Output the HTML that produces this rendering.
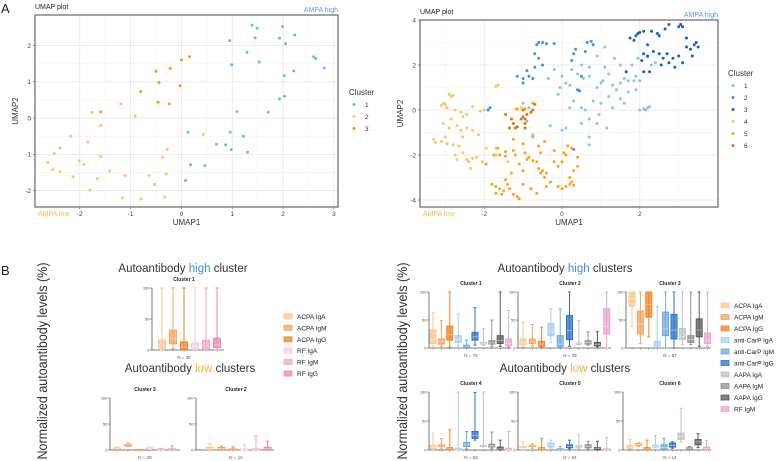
<!DOCTYPE html>
<html><head><meta charset="utf-8"><style>
body{margin:0;background:#fff;}
svg{display:block;font-family:"Liberation Sans",sans-serif;}
</style></head><body>
<svg id="fig" width="777" height="461" viewBox="0 0 777 461" xmlns="http://www.w3.org/2000/svg">
<text x="1" y="13" font-size="13" fill="#222">A</text>
<text x="1" y="275" font-size="13" fill="#222">B</text>
</svg>
<script>
// ---------- UMAP data ----------
const umapL_c1=[[1.39,2.56],[1.49,2.47],[1.99,2.52],[2.23,2.29],[1.45,2.21],[1.93,2.2],[0.95,2.13],[2.05,2.05],[1.29,1.81],[1.53,1.54],[0.99,1.47],[2.6,1.69],[2.64,1.64],[2.81,1.38],[2.21,1.3],[2.02,1.17],[1.93,0.53],[2.03,0.6],[1.09,0.18],[1.71,0.16],[0.13,-0.39],[0.96,-0.39],[1.22,-0.5],[0.69,-0.72],[0.87,-0.74],[0.98,-0.87],[1.3,-0.94],[0.18,-1.29],[0.46,-1.31],[0.08,-1.72]];
const umapL_c2=[[-1.19,0.39],[-0.91,0.06],[-1.76,0.16],[-1.59,-0.2],[-2.18,-0.5],[-1.84,-0.66],[-2.39,-0.82],[-2.5,-0.98],[-1.59,-1.06],[-2.63,-1.22],[-2.01,-1.18],[-1.92,-1.28],[-2.53,-1.42],[-2.39,-1.48],[-1.41,-1.46],[-2.13,-1.62],[-1.11,-1.58],[-1.65,-1.67],[-0.64,-1.58],[-1.8,-1.98],[-0.53,-1.83],[-1.16,-2.2],[-0.8,-2.23],[-0.33,-2.18],[0.43,-0.45],[-0.28,-0.86],[-0.37,-1.08],[-0.3,-1.54]];
const umapL_c3=[[0.16,1.69],[0,1.6],[-0.22,1.37],[-0.5,1.29],[-0.44,0.98],[-0.03,0.89],[-0.8,0.73],[-0.46,0.44],[-0.24,0.39],[-1.59,0.17]];
const umapR_c1=[[-0.2,1.8],[0,1.5],[0.1,1.2],[-0.1,0.7],[0.2,1.1],[0.5,2.0],[0.7,1.9],[0.7,1.5],[1.0,1.2],[1.05,1.3],[1.2,1.6],[0.9,1.0],[1.3,1.1],[1.4,0.9],[1.5,1.2],[1.6,1.4],[1.7,1.3],[1.85,1.3],[1.8,2.0],[1.9,1.5],[2.0,1.3],[2.3,2.0],[2.4,2.1],[1.35,2.3],[1.5,2.0],[0.5,0.1],[0.3,0.4],[0.6,0.0],[0.8,0.4],[1.0,0.3],[1.2,0.6],[1.5,0.5],[1.7,0.8],[1.9,0.9],[1.6,0.3],[0.95,-0.2],[0.9,-0.6],[1.15,-0.8],[0.7,-0.4],[0.5,-0.6],[0.1,-0.8],[0,-0.9],[-0.3,-0.7],[-0.75,-1.1],[0.7,-1.2],[0.7,-1.55],[2.0,0],[2.1,0.05],[2.2,0.1],[2.25,0.15],[2.15,0],[-0.9,-0.5],[-1.0,0.3],[-0.85,0.1],[1.95,2.3],[2.2,2.35],[0.9,2.4],[1.1,2.8],[0.2,0.1],[0.55,1.4],[-0.05,1.0],[0.25,1.8],[1.3,0.1],[-0.35,1.4],[0.4,1.6],[1.1,1.9]];
const umapR_c2=[[-0.6,3.0],[-0.5,3.0],[-0.4,2.95],[-0.2,2.95],[-0.65,2.9],[-0.7,2.5],[-0.6,2.3],[-0.5,2.0],[-0.7,1.9],[-0.9,1.75],[-1.0,1.4],[-1.15,1.5],[-0.85,1.5],[-0.75,1.4],[-1.0,1.2],[0.3,2.5],[0.35,2.7],[0.6,2.6],[0.25,2.2],[0.65,3.0],[0.5,1.5],[0.4,0.9],[0.45,0.85],[-1.85,0.1],[-1.9,0.0],[0.3,-1.75],[0.75,3.05],[0.8,2.9]];
const umapR_c3=[[1.65,1.7],[1.75,3.2],[1.85,3.1],[1.9,3.3],[1.95,3.4],[2.0,3.45],[2.1,3.5],[2.3,3.5],[2.45,3.4],[2.5,3.3],[2.65,3.6],[2.75,3.8],[3.0,3.7],[3.05,3.8],[3.1,3.7],[2.1,2.5],[2.2,2.4],[2.35,2.6],[2.5,2.5],[2.6,2.3],[2.7,2.5],[2.85,2.3],[3.0,2.4],[3.2,2.8],[3.3,2.7],[3.4,2.9],[3.5,2.8],[3.35,2.4],[3.1,2.1],[2.9,1.9],[2.1,1.7],[2.25,1.7],[2.05,2.2],[2.75,2.1],[3.2,3.2],[3.45,3.0],[2.2,2.9],[2.55,2.0]];
const umapR_c4=[[-2.9,0.7],[-2.85,0.6],[-2.8,0.65],[-3.05,0.3],[-3.0,0.25],[-2.95,0.1],[-2.75,0.0],[-2.6,-0.1],[-2.55,-0.3],[-2.45,-0.2],[-2.3,0.15],[-2.1,-0.05],[-2.0,0.0],[-1.05,0.1],[-1.2,0.05],[-3.05,-0.6],[-2.9,-0.8],[-2.7,-0.7],[-2.6,-0.9],[-2.55,-1.2],[-2.45,-0.8],[-2.3,-0.9],[-2.15,-1.1],[-3.3,-1.3],[-3.25,-1.45],[-3.1,-1.4],[-3.0,-1.2],[-2.95,-1.5],[-2.8,-1.55],[-2.65,-1.6],[-2.55,-1.9],[-2.75,-2.0],[-2.7,-2.2],[-2.45,-2.2],[-2.4,-2.3],[-2.3,-2.15],[-2.2,-2.1],[-2.05,-2.3],[-2.35,-2.6],[-1.65,1.1],[-1.7,1.05],[-1.95,-1.7],[-1.7,-1.7],[-1.7,-2.0],[-1.6,-2.0],[-3.1,0.2],[-2.85,-0.4],[-1.4,-2.3]];
const umapR_c5=[[-1.95,-2.4],[-1.75,-2.0],[-1.6,-2.0],[-1.45,-1.85],[-1.45,-2.05],[-1.25,-1.8],[-1.2,-2.0],[-1.0,-1.5],[-0.95,-1.9],[-0.85,-2.1],[-0.75,-2.25],[-0.65,-2.3],[-0.6,-2.6],[-0.55,-2.8],[-0.5,-2.7],[-0.45,-3.0],[-0.4,-2.8],[-0.3,-3.2],[-0.2,-2.3],[-0.1,-2.5],[0.0,-2.3],[0.05,-1.9],[0.15,-1.6],[0.25,-1.7],[0.4,-2.1],[0.4,-2.5],[0.3,-2.7],[0.2,-3.0],[-0.1,-3.4],[0,-3.5],[0.1,-3.4],[0.2,-3.3],[0.3,-3.35],[0.25,-3.2],[-1.8,-3.3],[-1.7,-3.4],[-1.6,-3.5],[-1.5,-3.6],[-1.45,-3.1],[-1.4,-3.3],[-1.35,-3.5],[-1.25,-3.75],[-1.15,-3.85],[-1.1,-3.95],[-1.0,-3.3],[-0.8,-3.5],[-0.65,-3.7],[-1.7,-3.7],[-1.55,-3.75],[-0.4,-3.4],[-0.6,-1.6],[-1.1,-2.4],[-1.3,-2.8],[-1.25,-1.3],[-0.75,-1.2],[-0.45,-1.4],[-0.2,-1.8],[-1.15,0.05],[-0.95,0.05],[-0.75,0.3],[-1.65,-1.7],[-1.0,-2.7],[-0.9,-2.2],[-0.55,-1.9],[0.1,-2.0]];
const umapR_c6=[[-1.45,-0.2],[-1.35,-0.8],[-1.25,-0.6],[-1.15,-0.75],[-1.05,-0.4],[-1.0,-0.3],[-0.95,-0.6],[-0.95,-0.8],[-0.9,-0.2],[-1.2,-0.8],[-0.8,-0.1],[-0.7,0.25],[-0.75,0.0],[-1.0,0.0],[-1.3,-0.4],[-0.95,-0.4]];
const umapL_xticks=[-2,-1,0,1,2,3];
const umapL_yticks=[-2,-1,0,1,2];
const umapR_xticks=[-2,0,2];
const umapR_yticks=[-4,-2,0,2,4];

// ---------- Box plot data [min,q1,median,q3,max] ----------
const leftSeries=["ACPA IgA","ACPA IgM","ACPA IgG","RF IgA","RF IgM","RF IgG"];
const boxL_c1=[[0,3,8,16,100],[2,10,19,32,100],[0,1,5,13,100],[0,1,5,11,100],[0,2,7,16,100],[0,4,8,19,100]];
const boxL_c3=[[1,2,3,4,6],[7,8,10,11,13],[0,0,0,1,1],[1,2,3,4,6],[0,0,1,2,3],[0,0,1,2,8]];
const boxL_c2=[[0,1,3,5,12],[0,1,3,5,7],[0,0,1,2,6],[0,0,1,2,11],[0,0,1,2,27],[0,1,2,5,17]];
const rightSeries=["ACPA IgA","ACPA IgM","ACPA IgG","anti-CarP IgA","anti-CarP IgM","anti-CarP IgG","AAPA IgA","AAPA IgM","AAPA IgG","RF IgM"];
const boxR_c1=[[3,8,15,32,63],[3,7,11,16,49],[2,14,24,39,100],[3,10,16,22,61],[1,2,3,5,14],[5,14,20,28,72],[5,7,8,10,35],[3,7,9,13,50],[3,8,13,22,100],[2,4,8,16,67]];
const boxR_c2=[[2,6,10,16,46],[3,8,12,16,42],[1,3,7,12,37],[10,22,30,44,70],[2,3,7,22,70],[3,15,31,58,100],[6,7,8,9,49],[5,7,10,13,29],[2,4,6,10,29],[0,25,38,70,100]];
const boxR_c3=[[38,75,88,100,100],[8,25,43,66,100],[20,55,78,100,100],[1,3,5,12,74],[0,22,34,64,100],[0,16,32,60,100],[6,15,20,35,100],[6,10,15,22,100],[3,20,32,52,100],[3,8,14,27,100]];
const boxR_c4=[[0,2,5,8,29],[3,6,7,9,20],[0,0,2,4,35],[0,0,1,3,100],[2,6,9,13,32],[17,20,25,32,99],[5,6,7,8,100],[2,5,7,10,31],[0,2,3,5,17],[0,0,1,3,32]];
const boxR_c5=[[0,4,5,6,14],[3,6,7,8,11],[0,0,2,4,20],[3,5,8,12,17],[0,1,1,2,6],[2,4,6,9,17],[3,5,7,8,26],[2,4,6,9,15],[0,1,3,4,15],[0,0,1,2,22]];
const boxR_c6=[[2,3,5,8,18],[6,8,9,11,12],[0,0,2,4,17],[4,5,6,8,25],[0,1,4,9,20],[3,5,8,12,14],[14,18,23,29,72],[0,1,3,4,6],[4,9,14,18,28],[0,1,3,5,16]];
const boxTicks=[0,50,100];

const svg=document.getElementById('fig');
const NS="http://www.w3.org/2000/svg";
function mk(tag,attrs,parent){const e=document.createElementNS(NS,tag);for(const k in attrs)e.setAttribute(k,attrs[k]);(parent||svg).appendChild(e);return e;}
function txt(s,x,y,size,fill,extra,parent){const e=mk('text',Object.assign({x:x,y:y,'font-size':size,fill:fill},extra||{}),parent);e.textContent=s;return e;}

// ---------- UMAP panel ----------
function umap(cfg){
  const g=mk('g',{});
  
  
  const sx=v=>cfg.x0+(v-cfg.xmin)/(cfg.xmax-cfg.xmin)*(cfg.x1-cfg.x0);
  const sy=v=>cfg.y1-(v-cfg.ymin)/(cfg.ymax-cfg.ymin)*(cfg.y1-cfg.y0);
  mk('rect',{x:cfg.x0,y:cfg.y0,width:cfg.x1-cfg.x0,height:cfg.y1-cfg.y0,fill:'#fff'},g);
  const minorX=[],minorY=[];
  for(let i=0;i<cfg.xticks.length-1;i++)minorX.push((cfg.xticks[i]+cfg.xticks[i+1])/2);
  for(let i=0;i<cfg.yticks.length-1;i++)minorY.push((cfg.yticks[i]+cfg.yticks[i+1])/2);
  if(cfg.extraMinorX)cfg.extraMinorX.forEach(v=>minorX.push(v));
  minorX.forEach(v=>mk('line',{x1:sx(v),x2:sx(v),y1:cfg.y0,y2:cfg.y1,stroke:'#f2f2f2','stroke-width':0.6},g));
  minorY.forEach(v=>mk('line',{x1:cfg.x0,x2:cfg.x1,y1:sy(v),y2:sy(v),stroke:'#f2f2f2','stroke-width':0.6},g));
  cfg.xticks.forEach(v=>{
    mk('line',{x1:sx(v),x2:sx(v),y1:cfg.y0,y2:cfg.y1,stroke:'#e6e6e6','stroke-width':0.8},g);
    mk('line',{x1:sx(v),x2:sx(v),y1:cfg.y1,y2:cfg.y1+2,stroke:'#444','stroke-width':0.6},g);
    const t=txt(String(v),sx(v),cfg.y1+9,6.5,'#444',{'text-anchor':'middle'},g);
    
    
  });
  cfg.yticks.forEach(v=>{
    mk('line',{x1:cfg.x0,x2:cfg.x1,y1:sy(v),y2:sy(v),stroke:'#e6e6e6','stroke-width':0.8},g);
    mk('line',{x1:cfg.x0-2,x2:cfg.x0,y1:sy(v),y2:sy(v),stroke:'#444','stroke-width':0.6},g);
    const t=txt(String(v),cfg.x0-4,sy(v)+2.3,6.5,'#444',{'text-anchor':'end'},g);
    
    
  });
  cfg.series.forEach((s,i)=>{
    s.pts.forEach(p=>{
      const c=mk('circle',{cx:sx(p[0]),cy:sy(p[1]),r:1.5,fill:s.color},g);
      
      
    });
  });
  const b=mk('rect',{x:cfg.x0,y:cfg.y0,width:cfg.x1-cfg.x0,height:cfg.y1-cfg.y0,fill:'none',stroke:'#666','stroke-width':1.2},g);
  
  
  let t=txt('UMAP plot',cfg.x0,cfg.y0-6,7,'#222',{},g);
  
  
  t=txt('AMPA high',cfg.x1,cfg.y0-3,7,'#5b9bd5',{'text-anchor':'end'},g);
  
  
  t=txt('AMPA low',cfg.x0+3,cfg.y1+9,7,'#fbbf45',{},g);
  
  
  t=txt('UMAP1',(cfg.x0+cfg.x1)/2,cfg.y1+18,8,'#333',{'text-anchor':'middle'},g);
  
  
  const my=(cfg.y0+cfg.y1)/2, mxp=cfg.x0-17;
  t=txt('UMAP2',mxp,my,8,'#333',{'text-anchor':'middle',transform:'rotate(-90 '+mxp+' '+my+')'},g);
  
  
  t=txt('Cluster',cfg.lx,cfg.ly,8,'#333',{},g);
  
  
  cfg.series.forEach((s,i)=>{
    const yy=cfg.ly+12+i*12;
    const c=mk('circle',{cx:cfg.lx+5,cy:yy-2.5,r:1.5,fill:s.color},g);
    
    
    const lt=txt(String(i+1),cfg.lx+16,yy,6.5,'#333',{},g);
    
    
  });
}
umap({name:'umap-plot-left',x0:35,x1:338,y0:15,y1:207,xmin:-2.88,xmax:3.08,ymin:-2.45,ymax:2.84,
  xticks:umapL_xticks,yticks:umapL_yticks,extraMinorX:[],lx:349,ly:95,
  series:[{pts:umapL_c1,color:'#6cbbe9'},{pts:umapL_c2,color:'#fdc560'},{pts:umapL_c3,color:'#f59e0b'}]});
umap({name:'umap-plot-right',x0:420,x1:718,y0:20,y1:207,xmin:-3.65,xmax:4.01,ymin:-4.31,ymax:4.0,
  xticks:umapR_xticks,yticks:umapR_yticks,extraMinorX:[-3,3],lx:728,ly:76,
  series:[{pts:umapR_c1,color:'#85c6ee'},{pts:umapR_c2,color:'#3f94de'},{pts:umapR_c3,color:'#1b63b8'},{pts:umapR_c4,color:'#fcc763'},{pts:umapR_c5,color:'#f8a51c'},{pts:umapR_c6,color:'#d97a07'}]});

// ---------- Box panels ----------
const colL=['#fbc690','#f7a35c','#f28322','#f9c8dc','#f4a2c4','#ef86b3'];
const colR=['#fbc690','#f7a35c','#f28322','#a8cdf0','#6fa8e0','#2f72c4','#c2c2c2','#909090','#5a5a5a','#e9a6d0'];
function boxPanel(cfg){
  const g=mk('g',{});
  
  
  const sy=v=>cfg.yb-v/100*(cfg.yb-cfg.yt);
  mk('line',{x1:cfg.ax,x2:cfg.ax,y1:cfg.yt,y2:cfg.yb,stroke:'#555','stroke-width':0.8},g);
  mk('line',{x1:cfg.ax,x2:cfg.axEnd,y1:cfg.yb,y2:cfg.yb,stroke:'#555','stroke-width':0.8},g);
  boxTicks.forEach(v=>{
    mk('line',{x1:cfg.ax-2,x2:cfg.ax,y1:sy(v),y2:sy(v),stroke:'#555','stroke-width':0.6},g);
    const t=txt(String(v),cfg.ax-2.5,sy(v)+1.5,4,'#444',{'text-anchor':'end'},g);
    
    
  });
  const bw=cfg.bw;
  cfg.data.forEach((d,i)=>{
    const cx=cfg.bx0+i*cfg.step, col=cfg.colors[i];
    mk('line',{x1:cx,x2:cx,y1:cfg.yb,y2:cfg.yb+1.5,stroke:'#555','stroke-width':0.5},g);
    const bg=mk('g',{},g);
    
    
    mk('line',{x1:cx,x2:cx,y1:sy(d[0]),y2:sy(d[4]),stroke:col,'stroke-width':1},bg);
    mk('line',{x1:cx-bw/4,x2:cx+bw/4,y1:sy(d[4]),y2:sy(d[4]),stroke:col,'stroke-width':1},bg);
    mk('line',{x1:cx-bw/4,x2:cx+bw/4,y1:sy(d[0]),y2:sy(d[0]),stroke:col,'stroke-width':1},bg);
    mk('rect',{x:cx-bw/2,y:sy(d[3]),width:bw,height:Math.max(0.8,sy(d[1])-sy(d[3])),fill:col,'fill-opacity':0.75,stroke:col,'stroke-width':1},bg);
    mk('line',{x1:cx-bw/2,x2:cx+bw/2,y1:sy(d[2]),y2:sy(d[2]),stroke:'#fff','stroke-opacity':0.6,'stroke-width':0.6},bg);
  });
  let t=txt(cfg.title,cfg.tx,cfg.yt-7,5,'#222',{'text-anchor':'middle','font-weight':'bold'},g);
  
  
  t=txt(cfg.n,cfg.tx,cfg.yb+9,4.5,'#555',{'text-anchor':'middle'},g);
  
  
}
boxPanel({name:'box-cluster-1-left',ax:152,axEnd:224,yt:288,yb:350,bx0:162,step:11,bw:7,data:boxL_c1,colors:colL,series:leftSeries,title:'Cluster 1',tx:184,n:'N = 30'});
boxPanel({name:'box-cluster-3-left',ax:110,axEnd:180,yt:398,yb:450,bx0:117,step:11,bw:7,data:boxL_c3,colors:colL,series:leftSeries,title:'Cluster 3',tx:145,n:'N = 28'});
boxPanel({name:'box-cluster-2-left',ax:196,axEnd:274,yt:398,yb:450,bx0:210,step:11.5,bw:7,data:boxL_c2,colors:colL,series:leftSeries,title:'Cluster 2',tx:236,n:'N = 10'});
boxPanel({name:'box-cluster-1-right',ax:429,axEnd:511,yt:292,yb:348,bx0:433,step:8.4,bw:6,data:boxR_c1,colors:colR,series:rightSeries,title:'Cluster 1',tx:471,n:'N = 76'});
boxPanel({name:'box-cluster-2-right',ax:518,axEnd:611,yt:292,yb:348,bx0:523,step:9.3,bw:6,data:boxR_c2,colors:colR,series:rightSeries,title:'Cluster 2',tx:570,n:'N = 39'});
boxPanel({name:'box-cluster-3-right',ax:626,axEnd:711,yt:292,yb:348,bx0:632,step:8.4,bw:6,data:boxR_c3,colors:colR,series:rightSeries,title:'Cluster 3',tx:670,n:'N = 57'});
boxPanel({name:'box-cluster-4-right',ax:429,axEnd:511,yt:392,yb:450,bx0:433,step:8.4,bw:6,data:boxR_c4,colors:colR,series:rightSeries,title:'Cluster 4',tx:471,n:'N = 63'});
boxPanel({name:'box-cluster-5-right',ax:518,axEnd:611,yt:392,yb:450,bx0:523,step:9.3,bw:6,data:boxR_c5,colors:colR,series:rightSeries,title:'Cluster 5',tx:570,n:'N = 84'});
boxPanel({name:'box-cluster-6-right',ax:623,axEnd:711,yt:392,yb:450,bx0:630,step:8.5,bw:6,data:boxR_c6,colors:colR,series:rightSeries,title:'Cluster 6',tx:670,n:'N = 14'});

// headings
function heading(x,y,pre,word,post,col,name){
  const t=mk('text',{x:x,y:y,'font-size':11.5,fill:'#333','text-anchor':'middle'});
  
  
  const a=mk('tspan',{},t);a.textContent=pre;
  const b=mk('tspan',{fill:col},t);b.textContent=word;
  const c=mk('tspan',{},t);c.textContent=post;
}
heading(183,272,'Autoantibody ','high',' cluster','#3b8fd9','left-high-heading');
heading(190,372,'Autoantibody ','low',' clusters','#f7b23b','left-low-heading');
heading(565,272,'Autoantibody ','high',' clusters','#3b8fd9','right-high-heading');
heading(565,372,'Autoantibody ','low',' clusters','#f7b23b','right-low-heading');

// y titles
[[47,'left-y-axis-title'],[407,'right-y-axis-title']].forEach(a=>{
  const t=txt('Normalized autoantibody levels (%)',a[0],361,13.5,'#333',{'text-anchor':'middle',textLength:197,lengthAdjust:'spacingAndGlyphs',transform:'rotate(-90 '+a[0]+' 361)'});
  
  
});

// legends
function boxLegend(x,y0,step,names,cols,name){
  const g=mk('g',{});
  
  
  names.forEach((n,i)=>{
    const y=y0+i*step;
    mk('rect',{x:x,y:y-3,width:8,height:5,fill:cols[i],'fill-opacity':0.75,stroke:cols[i],'stroke-width':0.8},g);
    const t=txt(n,x+13,y+2,6.5,'#222',{},g);
    
    
  });
}
boxLegend(284,317,11.4,leftSeries,colL,'legend-left');
boxLegend(721,306,11.5,rightSeries,colR,'legend-right');
</script>
</body></html>
